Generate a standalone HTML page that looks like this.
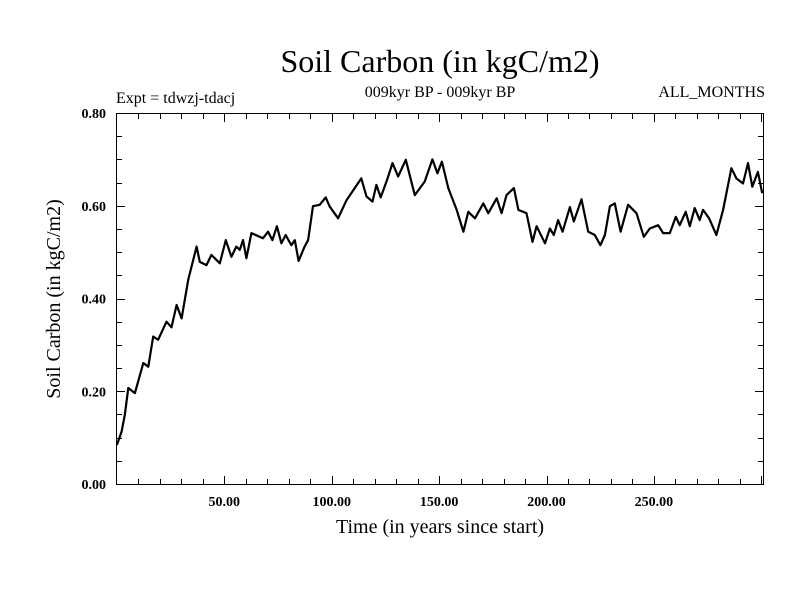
<!DOCTYPE html>
<html><head><meta charset="utf-8"><style>
body{margin:0;background:#fff}
svg{display:block;font-family:"Liberation Serif",serif}
</style></head><body>
<svg id="c" width="800" height="600">
<text x="440" y="72" font-size="32" text-anchor="middle">Soil Carbon (in kgC/m2)</text>
<text x="440" y="97" font-size="16" text-anchor="middle">009kyr BP - 009kyr BP</text>
<text x="116" y="103" font-size="16">Expt = tdwzj-tdacj</text>
<text x="765" y="97" font-size="16" text-anchor="end">ALL_MONTHS</text>
<text x="440" y="533" font-size="20" text-anchor="middle">Time (in years since start)</text>
<text transform="translate(60,299) rotate(-90)" font-size="20" text-anchor="middle">Soil Carbon (in kgC/m2)</text>
<g id="ticks"></g>
<rect x="116.5" y="113.5" width="647" height="371" fill="none" stroke="#000" stroke-width="1"/>
<path id="line" fill="none" stroke="#000" stroke-width="2.2" stroke-linejoin="round"/>
</svg>
<script>
const years=[0,2.2,3.7,5.3,8.4,12.3,14.6,16.9,19.2,23.1,25.4,27.8,30.1,33.2,37.1,38.6,41.7,44,47.9,50.7,53.3,55.6,57.2,58.7,60.3,62.6,68,70.4,72.4,74.5,76.6,78.6,81.2,82.8,84.6,87.4,89,91.3,94.4,97.2,99.1,103,106.9,110.7,113.8,116.2,119,120.8,122.8,125.8,128.3,130.9,134.5,138.7,143.3,146.9,149.2,151.3,154.3,158.2,161.3,163.6,166.7,170.6,172.9,176.8,179.1,181.4,184.8,186.9,190.7,193.5,195.4,199.3,201.6,203.4,205.4,207.5,210.9,212.7,216.3,219.4,222.5,225.1,227.2,229.5,231.8,234.5,238,241.9,245.3,248.1,252,254.3,257.4,260.2,262,264.8,266.7,269,271.3,272.9,275.7,279.1,282.2,286.1,288.4,291.5,293.8,295.8,298.4,300.4];
const carbon=[0.084,0.113,0.149,0.207,0.196,0.261,0.253,0.318,0.311,0.35,0.338,0.386,0.357,0.44,0.512,0.479,0.472,0.494,0.476,0.526,0.49,0.512,0.505,0.526,0.487,0.541,0.53,0.544,0.526,0.556,0.519,0.537,0.515,0.526,0.481,0.512,0.526,0.599,0.602,0.618,0.598,0.573,0.612,0.638,0.659,0.62,0.609,0.645,0.618,0.656,0.692,0.663,0.699,0.623,0.652,0.7,0.67,0.695,0.638,0.591,0.544,0.587,0.573,0.605,0.584,0.616,0.584,0.623,0.638,0.591,0.584,0.522,0.556,0.519,0.551,0.537,0.569,0.544,0.597,0.566,0.614,0.544,0.537,0.515,0.537,0.599,0.605,0.544,0.602,0.584,0.533,0.551,0.558,0.541,0.541,0.576,0.558,0.587,0.556,0.595,0.569,0.591,0.573,0.537,0.591,0.681,0.659,0.648,0.692,0.641,0.673,0.627];
const xTickLabels=[50,100,150,200,250];
const yTickLabels=[0,0.2,0.4,0.6,0.8];
const X0=116.9,XS=2.148,Y0=484,YS=463.75;
const sx=v=>X0+v*XS, sy=v=>Y0-v*YS;
const NS="http://www.w3.org/2000/svg";
const tg=document.getElementById('ticks');
function ln(x1,y1,x2,y2){const l=document.createElementNS(NS,'line');l.setAttribute('x1',x1);l.setAttribute('y1',y1);l.setAttribute('x2',x2);l.setAttribute('y2',y2);l.setAttribute('stroke','#000');


tg.appendChild(l);}
function tx(x,y,s,a,name){const t=document.createElementNS(NS,'text');t.setAttribute('x',x);t.setAttribute('y',y);t.setAttribute('font-size','14');t.setAttribute('font-weight','bold');t.setAttribute('text-anchor',a);t.textContent=s;


tg.appendChild(t);}
for(let v=10;v<=300;v+=10){const x=Math.round(sx(v))+0.5,big=v%50==0?8:5;ln(x,484,x,484-big);ln(x,114,x,114+big);}
for(let i=1;i<16;i++){const y=Math.round(sy(i*0.05))+0.5,big=i%4==0?8:5;ln(117,y,117+big,y);ln(763,y,763-big,y);}
xTickLabels.forEach(v=>tx(sx(v),506,v.toFixed(2),'middle','x-tick-label'));
yTickLabels.forEach(v=>tx(106,sy(v)+5,v.toFixed(2),'end','y-tick-label'));
document.getElementById('line').setAttribute('d',years.map((y,i)=>(i?'L':'M')+sx(y).toFixed(1)+','+sy(carbon[i]).toFixed(1)).join(''));
</script>
</body></html>
